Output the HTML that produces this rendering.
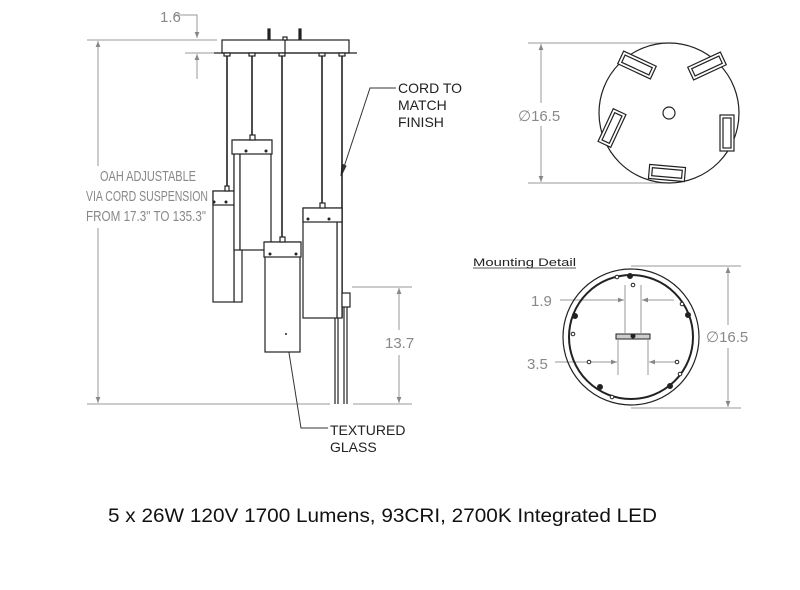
<!DOCTYPE html>
<html><head><style>html,body{margin:0;padding:0;background:#fff}svg{display:block}</style></head>
<body>
<svg width="800" height="590" viewBox="0 0 800 590" xmlns="http://www.w3.org/2000/svg">
<defs>
<marker id="a" viewBox="0 0 10 10" refX="10" refY="5" markerWidth="10" markerHeight="6" orient="auto-start-reverse" markerUnits="userSpaceOnUse"><path d="M0,1 L10,5 L0,9 z" fill="#888"/></marker>
</defs>
<g stroke="#999" stroke-width="1" fill="none">
<line x1="87" y1="40" x2="217" y2="40"/>
<line x1="87" y1="404" x2="330" y2="404"/>
<line x1="98" y1="41" x2="98" y2="166" marker-start="url(#a)"/>
<line x1="98" y1="228" x2="98" y2="403" marker-end="url(#a)"/>
<polyline points="174,15 197,15 197,38" marker-end="url(#a)"/>
<line x1="185" y1="53" x2="214" y2="53"/>
<line x1="197" y1="79" x2="197" y2="54" marker-end="url(#a)"/>
<line x1="352" y1="287" x2="412" y2="287"/>
<line x1="353" y1="404" x2="412" y2="404"/>
<line x1="399" y1="288" x2="399" y2="330" marker-start="url(#a)"/>
<line x1="399" y1="355" x2="399" y2="403" marker-end="url(#a)"/>
<line x1="528" y1="43" x2="669" y2="43"/>
<line x1="528" y1="183" x2="669" y2="183"/>
<line x1="541" y1="44" x2="541" y2="103" marker-start="url(#a)"/>
<line x1="541" y1="126" x2="541" y2="182" marker-end="url(#a)"/>
<line x1="631" y1="266" x2="741" y2="266"/>
<line x1="631" y1="408" x2="741" y2="408"/>
<line x1="728" y1="267" x2="728" y2="325" marker-start="url(#a)"/>
<line x1="728" y1="348" x2="728" y2="407" marker-end="url(#a)"/>
<line x1="560" y1="300" x2="624" y2="300" marker-end="url(#a)"/>
<line x1="625" y1="285" x2="625" y2="333"/>
<line x1="641" y1="285" x2="641" y2="333"/>
<line x1="674" y1="300" x2="642" y2="300" marker-end="url(#a)"/>
<line x1="555" y1="362" x2="617" y2="362" marker-end="url(#a)"/>
<line x1="618" y1="340" x2="618" y2="375"/>
<line x1="648" y1="340" x2="648" y2="375"/>
<line x1="678" y1="362" x2="649" y2="362" marker-end="url(#a)"/>
</g>
<g stroke="#333" stroke-width="1" fill="none">
<polyline points="396,88 370,88 343,170"/>
<polygon points="341,176 342,164 346,166" fill="#333"/>
<polyline points="286,334 301,428 328,428"/>
</g>
<g stroke="#222" stroke-width="1.2" fill="#fff">
<rect x="222" y="40" width="127" height="13"/>
<line x1="214" y1="53" x2="357" y2="53"/>
<line x1="285" y1="40" x2="285" y2="53"/>
<rect x="268" y="29" width="2" height="10" fill="#222"/>
<rect x="299" y="29" width="2" height="10" fill="#222"/>
<rect x="283" y="37" width="4" height="3"/>
<g stroke-width="1.6">
<line x1="227" y1="54" x2="227" y2="188"/>
<line x1="252" y1="54" x2="252" y2="137"/>
<line x1="282" y1="54" x2="282" y2="239"/>
<line x1="322" y1="54" x2="322" y2="205"/>
<line x1="342" y1="54" x2="342" y2="318"/>
</g>
<rect x="224" y="53" width="6" height="3"/><rect x="249" y="53" width="6" height="3"/><rect x="279" y="53" width="6" height="3"/><rect x="319" y="53" width="6" height="3"/><rect x="339" y="53" width="6" height="3"/>
<rect x="234" y="153" width="8" height="149"/>
<rect x="213" y="191" width="21" height="111"/>
<rect x="213" y="191" width="21" height="14"/>
<rect x="225" y="186" width="4" height="5"/>
<rect x="234" y="140" width="6" height="110"/>
<rect x="240" y="140" width="31" height="110"/>
<rect x="232" y="140" width="40" height="14"/>
<rect x="250" y="135" width="5" height="5"/>
<rect x="265" y="242" width="35" height="110"/>
<rect x="264" y="242" width="37" height="15"/>
<rect x="280" y="237" width="5" height="5"/>
<rect x="337" y="208" width="5" height="110"/>
<rect x="303" y="208" width="34" height="110"/>
<rect x="303" y="208" width="39" height="14"/>
<rect x="320" y="203" width="5" height="5"/>
<line x1="335" y1="318" x2="335" y2="404"/>
<line x1="338" y1="318" x2="338" y2="404"/>
<line x1="344" y1="300" x2="344" y2="404"/>
<line x1="347" y1="300" x2="347" y2="404"/>
<rect x="342" y="293" width="8" height="14"/>
</g>
<g fill="#222">
<circle cx="214" cy="202" r="1.5"/><circle cx="226" cy="202" r="1.5"/>
<circle cx="246" cy="151" r="1.5"/><circle cx="266" cy="151" r="1.5"/>
<circle cx="270" cy="254" r="1.5"/><circle cx="296" cy="254" r="1.5"/>
<circle cx="308" cy="219" r="1.5"/><circle cx="329" cy="219" r="1.5"/>
<circle cx="286" cy="334" r="1"/>
</g>
<g stroke="#222" stroke-width="1.2" fill="#fff">
<circle cx="669" cy="113" r="70"/>
<circle cx="669" cy="113" r="6"/>
<g transform="translate(637,65) rotate(25)"><rect x="-18" y="-7" width="36" height="14"/><rect x="-15" y="-4" width="30" height="8"/></g>
<g transform="translate(707,66) rotate(-25)"><rect x="-18" y="-7" width="36" height="14"/><rect x="-15" y="-4" width="30" height="8"/></g>
<g transform="translate(612,128) rotate(-65)"><rect x="-18" y="-7" width="36" height="14"/><rect x="-15" y="-4" width="30" height="8"/></g>
<g transform="translate(727,133) rotate(90)"><rect x="-18" y="-7" width="36" height="14"/><rect x="-15" y="-4" width="30" height="8"/></g>
<g transform="translate(667,173) rotate(5)"><rect x="-18" y="-7" width="36" height="14"/><rect x="-15" y="-4" width="30" height="8"/></g>
</g>
<g stroke="#222" fill="none">
<circle cx="631" cy="337" r="68" stroke-width="1.2"/>
<circle cx="631" cy="337" r="62" stroke-width="2"/>
<rect x="616" y="334" width="34" height="5" fill="#ccc" stroke-width="1"/>
<g stroke-width="1" fill="#fff">
<circle cx="617" cy="277" r="1.8"/><circle cx="633" cy="285" r="1.8"/><circle cx="682" cy="304" r="1.8"/><circle cx="573" cy="334" r="1.8"/>
<circle cx="589" cy="362" r="1.8"/><circle cx="677" cy="362" r="1.8"/><circle cx="680" cy="374" r="1.8"/><circle cx="612" cy="397" r="1.8"/>
</g>
<g fill="#222"><circle cx="630" cy="276" r="2.5"/><circle cx="688" cy="315" r="2.5"/><circle cx="575" cy="316" r="2.5"/><circle cx="600" cy="387" r="2.5"/><circle cx="670" cy="386" r="2.5"/><circle cx="633" cy="336" r="2"/></g>
</g>
<g font-family="'Liberation Sans', sans-serif" fill="#888" font-size="15">
<text x="160" y="22">1.6</text>
<text x="385" y="348">13.7</text>
<text x="518" y="121">∅16.5</text>
<text x="706" y="342">∅16.5</text>
<text x="531" y="306">1.9</text>
<text x="527" y="369">3.5</text>
</g>
<g font-family="'Liberation Sans', sans-serif" fill="#888" font-size="15">
<text x="100" y="181" textLength="96" lengthAdjust="spacingAndGlyphs">OAH ADJUSTABLE</text>
<text x="86" y="201" textLength="122" lengthAdjust="spacingAndGlyphs">VIA CORD SUSPENSION</text>
<text x="86" y="221" textLength="120" lengthAdjust="spacingAndGlyphs">FROM 17.3" TO 135.3"</text>
</g>
<g font-family="'Liberation Sans', sans-serif" fill="#222" font-size="14">
<text x="398" y="93">CORD TO</text>
<text x="398" y="110">MATCH</text>
<text x="398" y="127">FINISH</text>
<text x="330" y="435">TEXTURED</text>
<text x="330" y="452">GLASS</text>
</g>
<text x="473" y="266" font-family="'Liberation Sans', sans-serif" font-size="11" fill="#222" textLength="103" lengthAdjust="spacingAndGlyphs">Mounting  Detail</text>
<line x1="473" y1="268" x2="576" y2="268" stroke="#222" stroke-width="0.8"/>
<text x="108" y="522" font-family="'Liberation Sans', sans-serif" font-size="19" fill="#111" textLength="549" lengthAdjust="spacingAndGlyphs">5 x 26W 120V 1700 Lumens, 93CRI, 2700K Integrated LED</text>
</svg>
</body></html>
